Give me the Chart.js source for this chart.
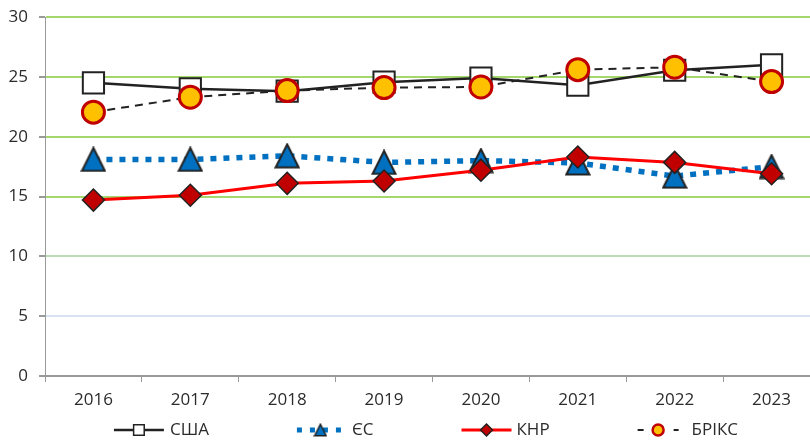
<!DOCTYPE html>
<html>
<head>
<meta charset="utf-8">
<script src="https://cdn.jsdelivr.net/npm/chart.js@4/dist/chart.umd.min.js"></script>
<style>
html,body{margin:0;padding:0;overflow:hidden;background:#ffffff;width:810px;height:441px}
#wrap{position:absolute;left:0;top:0;width:837px;height:441px}
</style>
</head>
<body>
<div id="wrap"><canvas id="c" width="837" height="441"></canvas></div>
<script>
// ---- data ----
const years = ['2016','2017','2018','2019','2020','2021','2022','2023'];
const seriesNames = ['США','ЄС','КНР','БРІКС'];
const usaValues   = [24.5, 24.0, 23.8, 24.55, 24.9, 24.3, 25.55, 26.0];
const euValues    = [18.1, 18.1, 18.4, 17.85, 18.0, 17.8, 16.7, 17.5];
const chinaValues = [14.7, 15.1, 16.1, 16.3, 17.2, 18.3, 17.85, 16.9];
const bricsValues = [22.05, 23.3, 23.85, 24.1, 24.15, 25.6, 25.8, 24.6];
const yMin = 0, yMax = 30, yStep = 5;

// ---- styles ----
const FONT_FAMILY = "'Open Sans', 'DejaVu Sans', sans-serif";
const TEXT_COLOR = '#2b2b2b';

function makeTriangle(w, h, lw) {
  const c = document.createElement('canvas');
  c.width = w; c.height = h;
  const g = c.getContext('2d');
  const m = lw / 2 + 0.5;
  g.beginPath();
  g.moveTo(w / 2, m);
  g.lineTo(w - m, h - m);
  g.lineTo(m, h - m);
  g.closePath();
  g.fillStyle = '#0070C0';
  g.fill();
  g.lineWidth = lw;
  g.strokeStyle = '#222222';
  g.lineJoin = 'miter';
  g.stroke();
  return c;
}
const triBig = makeTriangle(26, 26, 2);
const triSmall = makeTriangle(14, 14, 1.5);

function gridColor(ctx) {
  const v = ctx.tick ? ctx.tick.value : null;
  if (v === 0) return '#9a9a9a';
  if (v === 5) return '#D7E3F2';
  if (v === 10) return '#B8DDB3';
  return '#A5D86C';
}

const legendStyles = [
  {sw: 50, gap: 6, dash: [], lw: 2.5, marker: {pointStyle: 'rect', radius: 7.5, borderWidth: 1.5}},
  {sw: 47, gap: 8, dash: [5, 8], lw: 5, marker: {pointStyle: triSmall}},
  {sw: 50, gap: 5, dash: [], lw: 3, marker: {pointStyle: 'rectRot', radius: 6, borderWidth: 1.5}},
  {sw: 41, gap: 13, dash: [6, 30], lw: 2, marker: {pointStyle: 'circle', radius: 5.5, borderWidth: 2.5}}
];

const swatchLegend = {
  id: 'swatchLegend',
  afterDraw(chart) {
    const ctx = chart.ctx;
    const y = 430;
    const itemGap = 88;
    ctx.save();
    ctx.font = '17px ' + FONT_FAMILY;
    const ds = chart.data.datasets;
    const items = ds.map((d, i) => ({d, st: legendStyles[i], tw: ctx.measureText(d.label).width}));
    const total = items.reduce((s, it) => s + it.st.sw + it.st.gap + it.tw, 0) + itemGap * (items.length - 1);
    let x = 426 - total / 2;
    items.forEach(it => {
      const st = it.st, d = it.d;
      ctx.save();
      ctx.beginPath();
      ctx.setLineDash(st.dash);
      ctx.lineWidth = st.lw;
      ctx.strokeStyle = d.borderColor;
      ctx.lineCap = 'butt';
      ctx.moveTo(x, y);
      ctx.lineTo(x + st.sw, y);
      ctx.stroke();
      ctx.setLineDash([]);
      ctx.fillStyle = d.pointBackgroundColor;
      ctx.strokeStyle = d.pointBorderColor;
      ctx.lineWidth = st.marker.borderWidth || 1;
      Chart.helpers.drawPoint(ctx, {pointStyle: st.marker.pointStyle, radius: st.marker.radius || 6, borderWidth: st.marker.borderWidth || 0, rotation: 0}, x + st.sw / 2, y);
      ctx.restore();
      ctx.fillStyle = TEXT_COLOR;
      ctx.textBaseline = 'middle';
      ctx.textAlign = 'left';
      ctx.fillText(d.label, x + st.sw + st.gap, y);
      x += st.sw + st.gap + it.tw + itemGap;
    });
    ctx.restore();
  }
};

new Chart(document.getElementById('c'), {
  type: 'line',
  data: {
    labels: years,
    datasets: [
      {
        label: seriesNames[0], data: usaValues, order: 4,
        borderColor: '#222222', borderWidth: 2.5,
        pointStyle: 'rect', pointRadius: 15, pointHoverRadius: 15,
        pointBackgroundColor: '#ffffff', pointBorderColor: '#222222', pointBorderWidth: 2
      },
      {
        label: seriesNames[1], data: euValues, order: 3,
        borderColor: '#0070C0', borderWidth: 5.5, borderDash: [6, 7], borderCapStyle: 'butt',
        pointStyle: triBig, pointRadius: 12, pointHoverRadius: 12,
        pointBackgroundColor: '#0070C0', pointBorderColor: '#222222', pointBorderWidth: 2
      },
      {
        label: seriesNames[2], data: chinaValues, order: 2,
        borderColor: '#FF0000', borderWidth: 3,
        pointStyle: 'rectRot', pointRadius: 11, pointHoverRadius: 11,
        pointBackgroundColor: '#C00000', pointBorderColor: '#222222', pointBorderWidth: 1.5
      },
      {
        label: seriesNames[3], data: bricsValues, order: 1,
        borderColor: '#222222', borderWidth: 2, borderDash: [8, 6], borderCapStyle: 'butt',
        pointStyle: 'circle', pointRadius: 11, pointHoverRadius: 11,
        pointBackgroundColor: '#FFC000', pointBorderColor: '#C00000', pointBorderWidth: 3
      }
    ]
  },
  options: {
    responsive: false,
    animation: false,
    devicePixelRatio: 1,
    events: [],
    layout: {padding: {top: 16, right: 0, bottom: 35, left: 0}},
    elements: {line: {tension: 0}},
    plugins: {legend: {display: false}, tooltip: {enabled: false}},
    scales: {
      x: {
        offset: true,
        grid: {offset: true, drawOnChartArea: false, drawTicks: true, tickLength: 6, tickColor: '#9a9a9a'},
        border: {color: '#9a9a9a', width: 1},
        ticks: {color: TEXT_COLOR, font: {family: FONT_FAMILY, size: 17}, padding: 8, maxRotation: 0},
        afterFit(s) { s.height = 30; s.paddingLeft = 0; s.paddingRight = 0; }
      },
      y: {
        min: yMin, max: yMax,
        ticks: {stepSize: yStep, color: TEXT_COLOR, font: {family: FONT_FAMILY, size: 17}, padding: 11},
        grid: {color: gridColor, lineWidth: 2, drawTicks: true, tickLength: 6, tickColor: '#9a9a9a'},
        border: {color: '#9a9a9a', width: 1},
        afterFit(s) { s.width = 45; s.paddingTop = 0; s.paddingBottom = 0; }
      }
    }
  },
  plugins: [swatchLegend]
});
</script>
</body>
</html>
